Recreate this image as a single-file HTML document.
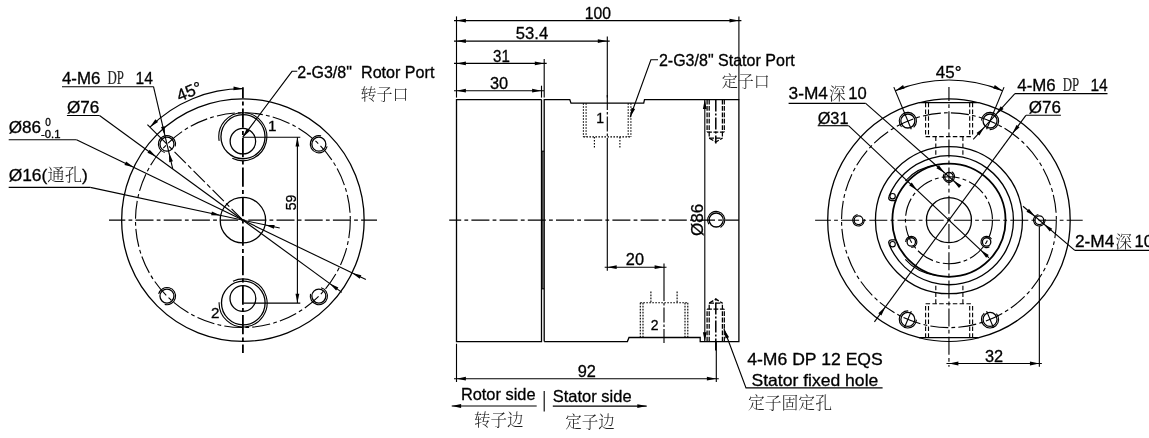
<!DOCTYPE html>
<html lang="zh">
<head>
<meta charset="utf-8">
<title>Rotary union drawing</title>
<style>
html,body{margin:0;padding:0;background:#fff;}
body{width:1149px;height:438px;overflow:hidden;}
svg{display:block;filter:grayscale(1);}
svg *{fill:none;stroke:#000;stroke-width:1.12;}
.o{stroke-width:1.3;}
.k{stroke-width:1.8;}
.c{stroke-dasharray:18 3.2 3.8 3.2;}
.d2{stroke-width:1.25;stroke-dasharray:4.8 1.6;}
.cs{stroke-width:1.5;stroke-dasharray:12 2 2 2;}
.c4{stroke-dasharray:18 3.2 3.8 3.2;}
.c3{stroke-dasharray:15 2 2.5 2;}
.c2{stroke-dasharray:16 3.2 4.5 3.2;}
.cb{stroke-width:1.8;stroke-dasharray:19.2 3.2 3.9 3.2;}
.h{stroke-dasharray:1.6 1.4;}
.d{stroke-dasharray:4.5 2.3;}
svg .a{fill:#000;stroke:none;}
svg text,svg tspan{fill:#000;stroke:#000;stroke-width:0.3;font-family:"Liberation Sans",sans-serif;}
svg .cj{font-family:"Liberation Serif","Noto Serif CJK SC",serif;font-weight:300;fill:#222;stroke:none;}
svg .sf{font-family:"Liberation Serif",serif;fill:#222;stroke:#222;stroke-width:0.2;}
</style>
</head>
<body>
<svg width="1149" height="438" viewBox="0 0 1149 438">
<!-- left view -->
<circle class="o" cx="242.9" cy="220.15" r="121.25"/>
<circle class="c" cx="242.9" cy="220.15" r="107.4"/>
<circle class="o" cx="242.9" cy="220.15" r="22.7"/>
<line class="c" x1="109" y1="220.15" x2="377" y2="220.15" stroke-dashoffset="1.7"/>
<line class="cb" x1="242.9" y1="87.2" x2="242.9" y2="353" stroke-dashoffset="8.1"/>
<circle class="o" cx="243" cy="136.7" r="22.05"/>
<circle class="o" cx="242.9" cy="141.2" r="12.75"/>
<path class="t" d="M232.28 158.27A24 24 0 1 0 219.16 140.87"/>
<circle class="o" cx="243.3" cy="303" r="21.8"/>
<circle class="o" cx="242.9" cy="298.5" r="12.9"/>
<path class="t" d="M219.11 302.16A24 24 0 1 0 232.96 281.25"/>
<circle class="o" cx="166.96" cy="144.21" r="7"/>
<path class="t" d="M175.26 146.43A8.6 8.6 0 1 0 164.73 152.51"/>
<circle class="o" cx="318.84" cy="144.21" r="7"/>
<path class="t" d="M321.07 135.9A8.6 8.6 0 1 0 327.15 146.43"/>
<circle class="o" cx="166.96" cy="296.09" r="7"/>
<path class="t" d="M164.73 304.4A8.6 8.6 0 1 0 158.65 293.87"/>
<circle class="o" cx="318.84" cy="296.09" r="7"/>
<path class="t" d="M310.54 293.87A8.6 8.6 0 1 0 321.07 287.79"/>
<line class="c2" x1="242.9" y1="220.15" x2="166.96" y2="144.21"/>
<line class="t" x1="166.96" y1="144.21" x2="147.4" y2="124.65"/>
<path class="t" d="M242.9 88.65A131.5 131.5 0 0 0 149.92 127.17"/>
<polygon class="a" points="242.9,88.65 233.45,90.27 233.56,86.47"/>
<polygon class="a" points="149.92,127.17 155.38,119.29 158.01,122.03"/>
<text class="s" x="191.5" y="96.8" font-size="17" text-anchor="middle" transform="rotate(-22.5 191.5 96.8)">45°</text>
<line class="t" x1="62" y1="86.7" x2="153.5" y2="86.7"/>
<line class="t" x1="153.5" y1="86.7" x2="172.74" y2="168.94"/>
<polygon class="a" points="165,135.83 161.01,127.11 164.71,126.25"/>
<polygon class="a" points="168.92,152.58 172.91,161.3 169.21,162.17"/>
<text class="s" x="62" y="84.3" font-size="17" textLength="38.4" lengthAdjust="spacingAndGlyphs">4-M6</text>
<text class="sf" x="107.5" y="84.3" font-size="18.6" textLength="16.4" lengthAdjust="spacingAndGlyphs">DP</text>
<text class="s" x="135.6" y="84.3" font-size="17" textLength="17.3" lengthAdjust="spacingAndGlyphs">14</text>
<line class="t" x1="66.9" y1="115.5" x2="99.5" y2="115.5"/>
<line class="t" x1="99.5" y1="115.5" x2="341.85" y2="292.36"/>
<polygon class="a" points="156.15,156.84 147.43,152.83 149.67,149.76"/>
<polygon class="a" points="329.65,283.46 338.37,287.47 336.13,290.54"/>
<text class="s" x="66.9" y="113.1" font-size="17" textLength="32.4" lengthAdjust="spacingAndGlyphs">Ø76</text>
<line class="t" x1="8.7" y1="139.7" x2="76.5" y2="139.7"/>
<line class="t" x1="76.5" y1="139.7" x2="365.88" y2="279.61"/>
<polygon class="a" points="133.74,167.37 124.45,164.99 126.1,161.57"/>
<polygon class="a" points="352.06,272.93 361.35,275.31 359.7,278.73"/>
<text class="s" x="8.7" y="133.2" font-size="17" textLength="32.4" lengthAdjust="spacingAndGlyphs">Ø86</text>
<text class="s" x="45.2" y="126.4" font-size="10">0</text>
<text class="s" x="41.1" y="137.8" font-size="10" textLength="19.4" lengthAdjust="spacingAndGlyphs">-0.1</text>
<line class="t" x1="8.7" y1="187.4" x2="90.3" y2="187.4"/>
<line class="t" x1="90.3" y1="187.4" x2="279.76" y2="228.06"/>
<polygon class="a" points="220.71,215.39 211.12,215.27 211.91,211.56"/>
<polygon class="a" points="265.09,224.91 274.68,225.03 273.89,228.74"/>
<text class="s" x="8.7" y="181" font-size="17" textLength="79.2" lengthAdjust="spacingAndGlyphs">Ø16(<tspan class="cj" font-size="17">通孔</tspan>)</text>
<polyline class="t" points="297.3,71.3 292,71.3 242.6,137.4"/>
<polygon class="a" points="242.6,137.4 246.71,128.73 249.75,131.01"/>
<text class="s" x="297.3" y="77.5" font-size="16">2-G3/8"</text>
<text class="s" x="361" y="77.5" font-size="16" textLength="73.4" lengthAdjust="spacingAndGlyphs">Rotor Port</text>
<text class="cj" x="360.4" y="99.9" font-size="16">转子口</text>
<line class="t" x1="243" y1="137.2" x2="300.3" y2="137.2"/>
<line class="t" x1="243.3" y1="303.1" x2="300.3" y2="303.1"/>
<line class="t" x1="297.4" y1="137.2" x2="297.4" y2="303.1"/>
<polygon class="a" points="297.4,137.2 299.3,146.6 295.5,146.6"/>
<polygon class="a" points="297.4,303.1 295.5,293.7 299.3,293.7"/>
<text class="s" x="295.8" y="202.4" font-size="14" text-anchor="middle" transform="rotate(-90 295.8 202.4)">59</text>
<text class="s" x="267.9" y="131.2" font-size="15.2">1</text>
<text class="s" x="211" y="318.4" font-size="15.2">2</text>
<!-- middle view -->
<polyline class="o" points="541.5,99.6 456.5,99.6 456.5,341.6 541.5,341.6 541.5,99.6"/>
<polyline class="o" points="544.2,341.6 544.2,99.6 569.8,99.6 571,103.2 643.7,103.2 644.5,99.6 738.9,99.6 738.9,341.6 700.2,341.6 700.2,337.5 629,337.5 627.4,341.6 544.2,341.6"/>
<line x1="542.85" y1="151.2" x2="542.85" y2="288.8" stroke="#aaa" stroke-width="1"/>
<line class="t" x1="541.5" y1="151.2" x2="544.2" y2="151.2"/>
<line class="t" x1="541.5" y1="288.8" x2="544.2" y2="288.8"/>
<line class="c4" x1="449.2" y1="220.1" x2="738.9" y2="220.1" stroke-dashoffset="6"/>
<line class="t" x1="456.5" y1="16.4" x2="456.5" y2="97.6"/>
<line class="t" x1="738.9" y1="16.4" x2="738.9" y2="99.6"/>
<line class="t" x1="454" y1="20.6" x2="741.4" y2="20.6"/>
<polygon class="a" points="456.5,20.6 465.9,18.7 465.9,22.5"/>
<polygon class="a" points="738.9,20.6 729.5,22.5 729.5,18.7"/>
<text class="s" x="597.9" y="19.4" font-size="17" text-anchor="middle" textLength="26.2" lengthAdjust="spacingAndGlyphs">100</text>
<line class="t" x1="454" y1="41.1" x2="609.7" y2="41.1"/>
<polygon class="a" points="456.5,41.1 465.9,39.2 465.9,43"/>
<polygon class="a" points="607.2,41.1 597.8,43 597.8,39.2"/>
<text class="s" x="532" y="38.9" font-size="17" text-anchor="middle" textLength="32.4" lengthAdjust="spacingAndGlyphs">53.4</text>
<line class="t" x1="454" y1="63.4" x2="546.7" y2="63.4"/>
<polygon class="a" points="456.5,63.4 465.9,61.5 465.9,65.3"/>
<polygon class="a" points="544.2,63.4 534.8,65.3 534.8,61.5"/>
<text class="s" x="501.4" y="61.7" font-size="17" text-anchor="middle" textLength="16.8" lengthAdjust="spacingAndGlyphs">31</text>
<line class="t" x1="454" y1="90.7" x2="544" y2="90.7"/>
<polygon class="a" points="456.5,90.7 465.9,88.8 465.9,92.6"/>
<polygon class="a" points="541.5,90.7 532.1,92.6 532.1,88.8"/>
<text class="s" x="499.1" y="88.7" font-size="17" text-anchor="middle" textLength="18.2" lengthAdjust="spacingAndGlyphs">30</text>
<line class="t" x1="544.2" y1="59" x2="544.2" y2="97.6"/>
<line class="t" x1="541.5" y1="85.7" x2="541.5" y2="97.6"/>
<line class="t" x1="607.3" y1="36.5" x2="607.3" y2="97.6"/>
<line class="c3" x1="607.3" y1="95" x2="607.3" y2="153"/>
<line class="t" x1="607.3" y1="153" x2="607.3" y2="270.8"/>
<line class="h" x1="583.4" y1="103.2" x2="583.4" y2="136.9"/>
<line class="h" x1="586.1" y1="103.2" x2="586.1" y2="136.9"/>
<line class="h" x1="628.2" y1="103.2" x2="628.2" y2="136.9"/>
<line class="h" x1="630.9" y1="103.2" x2="630.9" y2="136.9"/>
<line class="h" x1="583.4" y1="136.9" x2="630.9" y2="136.9"/>
<line class="h" x1="594.4" y1="136.9" x2="594.4" y2="148.9"/>
<line class="h" x1="619.9" y1="136.9" x2="619.9" y2="148.9"/>
<text class="s" x="596.3" y="123.4" font-size="14">1</text>
<polyline class="t" points="658,59.8 650.9,59.8 630.1,117.2"/>
<polygon class="a" points="630.1,117.2 631.52,107.72 635.09,109.01"/>
<text class="s" x="658.9" y="65.6" font-size="16" textLength="135.8" lengthAdjust="spacingAndGlyphs">2-G3/8" Stator Port</text>
<text class="cj" x="721.8" y="87.2" font-size="16">定子口</text>
<line class="t" x1="604.7" y1="267.2" x2="666.5" y2="267.2"/>
<polygon class="a" points="607.3,267.2 616.7,265.3 616.7,269.1"/>
<polygon class="a" points="664,267.2 654.6,269.1 654.6,265.3"/>
<text class="s" x="634.9" y="265.4" font-size="17" text-anchor="middle" textLength="18.2" lengthAdjust="spacingAndGlyphs">20</text>
<line class="t" x1="664" y1="263.4" x2="664" y2="286"/>
<line class="c3" x1="664" y1="286" x2="664" y2="343"/>
<line class="h" x1="640.3" y1="302.8" x2="640.3" y2="337.5"/>
<line class="h" x1="643" y1="302.8" x2="643" y2="337.5"/>
<line class="h" x1="685" y1="302.8" x2="685" y2="337.5"/>
<line class="h" x1="687.8" y1="302.8" x2="687.8" y2="337.5"/>
<line class="h" x1="640.3" y1="302.8" x2="687.8" y2="302.8"/>
<line class="h" x1="650.9" y1="291.6" x2="650.9" y2="302.8"/>
<line class="h" x1="677.1" y1="291.6" x2="677.1" y2="302.8"/>
<text class="s" x="650.8" y="329.6" font-size="14">2</text>
<line class="t" x1="704.8" y1="99.6" x2="704.8" y2="341.6"/>
<polygon class="a" points="704.8,99.6 706.7,109 702.9,109"/>
<polygon class="a" points="704.8,341.6 702.9,332.2 706.7,332.2"/>
<text class="s" x="703" y="219.8" font-size="17" text-anchor="middle" textLength="32.2" lengthAdjust="spacingAndGlyphs" transform="rotate(-90 703 219.8)">Ø86</text>
<circle class="o" cx="716.2" cy="220" r="7"/>
<path class="t" d="M720.5 227.45A8.6 8.6 0 1 0 708.75 224.3"/>
<line class="d2" x1="707.1" y1="99.6" x2="707.1" y2="132.1"/>
<line class="d2" x1="724.3" y1="99.6" x2="724.3" y2="132.1"/>
<line class="d2" x1="709.2" y1="99.6" x2="709.2" y2="138.1"/>
<line class="d2" x1="722.4" y1="99.6" x2="722.4" y2="138.1"/>
<line class="d2" x1="707.1" y1="132.1" x2="724.3" y2="132.1"/>
<polyline class="d2" points="709.2,138.1 715.8,142.1 722.4,138.1"/>
<line class="d2" x1="709.2" y1="138.1" x2="722.4" y2="138.1"/>
<line class="cs" x1="715.8" y1="99.6" x2="715.8" y2="143.6"/>
<line class="d2" x1="707.1" y1="341.6" x2="707.1" y2="309.1"/>
<line class="d2" x1="724.3" y1="341.6" x2="724.3" y2="309.1"/>
<line class="d2" x1="709.2" y1="341.6" x2="709.2" y2="303.1"/>
<line class="d2" x1="722.4" y1="341.6" x2="722.4" y2="303.1"/>
<line class="d2" x1="707.1" y1="309.1" x2="724.3" y2="309.1"/>
<polyline class="d2" points="709.2,303.1 715.8,299.1 722.4,303.1"/>
<line class="d2" x1="709.2" y1="303.1" x2="722.4" y2="303.1"/>
<line class="cs" x1="715.8" y1="350.6" x2="715.8" y2="297.6"/>
<line class="t" x1="456.5" y1="343.7" x2="456.5" y2="382"/>
<line class="t" x1="716.3" y1="341.5" x2="716.3" y2="382"/>
<line class="t" x1="454" y1="378.7" x2="718.8" y2="378.7"/>
<polygon class="a" points="456.5,378.7 465.9,376.8 465.9,380.6"/>
<polygon class="a" points="716.3,378.7 706.9,380.6 706.9,376.8"/>
<text class="s" x="586.8" y="376.6" font-size="17" text-anchor="middle" textLength="18.2" lengthAdjust="spacingAndGlyphs">92</text>
<polyline class="t" points="724,329 746,387.9 882.6,387.9"/>
<polygon class="a" points="724,329 729.07,337.14 725.51,338.47"/>
<text class="s" x="747.2" y="364.6" font-size="16.5" textLength="135.6" lengthAdjust="spacingAndGlyphs">4-M6 DP 12 EQS</text>
<text class="s" x="751.5" y="385.6" font-size="16.5" textLength="126.8" lengthAdjust="spacingAndGlyphs">Stator fixed hole</text>
<text class="cj" x="748" y="409.3" font-size="16.8">定子固定孔</text>
<line class="t" x1="451.7" y1="406" x2="536.7" y2="406"/>
<polygon class="a" points="451.7,406 461.1,404.1 461.1,407.9"/>
<text class="s" x="460.9" y="400" font-size="16.5" textLength="74.6" lengthAdjust="spacingAndGlyphs">Rotor side</text>
<text class="cj" x="474" y="426.3" font-size="16.5">转子边</text>
<line class="t" x1="544.2" y1="391" x2="544.2" y2="411.4"/>
<line class="t" x1="552.8" y1="406.1" x2="646.7" y2="406.1"/>
<polygon class="a" points="646.7,406.1 637.3,408 637.3,404.2"/>
<text class="s" x="552.8" y="402.2" font-size="16.5" textLength="78.8" lengthAdjust="spacingAndGlyphs">Stator side</text>
<text class="cj" x="565.3" y="428.3" font-size="16.5">定子边</text>
<!-- right view -->
<path class="o" d="M978.87 337.7A121.25 121.25 0 0 0 978.87 102.7"/>
<path class="o" d="M919.03 102.7A121.25 121.25 0 0 0 919.03 337.7"/>
<path class="t" d="M978.87 102.7A121.25 121.25 0 0 0 919.03 102.7"/>
<path class="t" d="M919.03 337.7A121.25 121.25 0 0 0 978.87 337.7"/>
<line class="o" x1="919.03" y1="102.7" x2="978.87" y2="102.7"/>
<line class="o" x1="919.03" y1="337.7" x2="978.87" y2="337.7"/>
<circle class="c" cx="948.95" cy="220.2" r="107.4"/>
<circle class="o" cx="948.95" cy="220.2" r="73.5"/>
<path class="o" d="M889.06 244.15A64.5 64.5 0 1 0 889.06 196.25"/>
<circle class="k" cx="948.95" cy="220.2" r="56.6"/>
<circle class="c" cx="948.95" cy="220.2" r="43.5"/>
<circle class="o" cx="948.95" cy="220.2" r="22.5"/>
<line class="c" x1="815.1" y1="220.2" x2="1082.7" y2="220.2" stroke-dashoffset="2.2"/>
<line class="c" x1="948.95" y1="87" x2="948.95" y2="366.7" stroke-dashoffset="4"/>
<path class="o" d="M889.2 196.3C888 198.6 889 200.3 891.6 200.5L896.2 200.5"/>
<circle class="t" cx="892.6" cy="196.2" r="2.7"/>
<path class="t" d="M905.3 181Q917 167.6 936.5 164.9"/>
<path class="o" d="M889.2 244.1C888 241.8 889 240.1 891.6 239.9L896.2 239.9"/>
<circle class="t" cx="892.6" cy="244.2" r="2.7"/>
<path class="t" d="M905.3 259.4Q917 272.8 936.5 275.5"/>
<circle class="o" cx="948.95" cy="176.7" r="4.2"/>
<path class="t" d="M944.1 173.9A5.6 5.6 0 1 0 951.75 171.85"/>
<circle class="o" cx="911.28" cy="241.95" r="4.2"/>
<path class="t" d="M911.28 247.55A5.6 5.6 0 1 0 905.68 241.95"/>
<circle class="o" cx="986.62" cy="241.95" r="4.2"/>
<path class="t" d="M991.47 239.15A5.6 5.6 0 1 0 989.42 246.8"/>
<circle class="o" cx="858.55" cy="220.2" r="4.4"/>
<path class="t" d="M857.54 214.49A5.8 5.8 0 1 0 864.26 219.19"/>
<circle class="o" cx="1039.35" cy="220.2" r="4.4"/>
<path class="t" d="M1038.34 214.49A5.8 5.8 0 1 0 1045.06 219.19"/>
<circle class="o" cx="990.05" cy="120.98" r="7"/>
<path class="t" d="M989.68 129.57A8.6 8.6 0 1 0 981.46 120.6"/>
<circle class="o" cx="907.85" cy="120.98" r="7"/>
<path class="t" d="M913.66 127.32A8.6 8.6 0 1 0 901.51 126.79"/>
<circle class="o" cx="907.85" cy="319.42" r="7"/>
<path class="t" d="M908.22 310.83A8.6 8.6 0 1 0 916.44 319.8"/>
<circle class="o" cx="990.05" cy="319.42" r="7"/>
<path class="t" d="M984.24 313.08A8.6 8.6 0 1 0 996.39 313.61"/>
<line class="t" x1="911.29" y1="311.11" x2="904.41" y2="327.74"/>
<line class="t" x1="986.61" y1="311.11" x2="993.49" y2="327.74"/>
<line class="d" x1="925.6" y1="102.7" x2="925.6" y2="136.6"/>
<line class="d" x1="928.5" y1="102.7" x2="928.5" y2="136.6"/>
<line class="d" x1="969.7" y1="102.7" x2="969.7" y2="136.6"/>
<line class="d" x1="972.6" y1="102.7" x2="972.6" y2="136.6"/>
<line class="d" x1="925.6" y1="136.6" x2="972.6" y2="136.6"/>
<line class="d" x1="935.8" y1="136.6" x2="935.8" y2="156.7"/>
<line class="d" x1="962.9" y1="136.6" x2="962.9" y2="156.7"/>
<line class="d" x1="925.6" y1="337.7" x2="925.6" y2="303.8"/>
<line class="d" x1="928.5" y1="337.7" x2="928.5" y2="303.8"/>
<line class="d" x1="969.7" y1="337.7" x2="969.7" y2="303.8"/>
<line class="d" x1="972.6" y1="337.7" x2="972.6" y2="303.8"/>
<line class="d" x1="925.6" y1="303.8" x2="972.6" y2="303.8"/>
<line class="d" x1="935.8" y1="303.8" x2="935.8" y2="283.7"/>
<line class="d" x1="962.9" y1="303.8" x2="962.9" y2="283.7"/>
<path class="t" d="M1002.6 90.67A140.2 140.2 0 0 0 895.3 90.67"/>
<line class="t" x1="986.61" y1="129.29" x2="1004.06" y2="87.16"/>
<polygon class="a" points="1002.6,90.67 993.26,88.49 994.84,85.03"/>
<line class="t" x1="911.29" y1="129.29" x2="893.84" y2="87.16"/>
<polygon class="a" points="895.3,90.67 903.06,85.03 904.64,88.49"/>
<text class="s" x="948.6" y="77.8" font-size="17" text-anchor="middle">45°</text>
<line class="t" x1="1014.9" y1="93.6" x2="1107.5" y2="93.6"/>
<line class="t" x1="1014.9" y1="93.6" x2="973.25" y2="139.49"/>
<polygon class="a" points="995.83,114.61 1000.74,106.37 1003.56,108.92"/>
<polygon class="a" points="984.27,127.34 979.36,135.58 976.55,133.03"/>
<text class="s" x="1017.3" y="90.8" font-size="17" textLength="38.4" lengthAdjust="spacingAndGlyphs">4-M6</text>
<text class="sf" x="1062.8" y="90.8" font-size="18.6" textLength="16.4" lengthAdjust="spacingAndGlyphs">DP</text>
<text class="s" x="1090.4" y="90.8" font-size="17" textLength="17.3" lengthAdjust="spacingAndGlyphs">14</text>
<line class="t" x1="1025.9" y1="115.3" x2="1060.9" y2="115.3"/>
<line class="t" x1="1025.9" y1="115.3" x2="874.42" y2="321.8"/>
<polygon class="a" points="1012.47,133.6 1016.5,124.9 1019.57,127.15"/>
<polygon class="a" points="885.43,306.8 881.4,315.5 878.33,313.25"/>
<text class="s" x="1028.8" y="113.2" font-size="17" textLength="32.1" lengthAdjust="spacingAndGlyphs">Ø76</text>
<line class="t" x1="788.6" y1="103.4" x2="865.7" y2="103.4"/>
<line class="t" x1="865.7" y1="103.4" x2="959.83" y2="186.28"/>
<polygon class="a" points="944.75,173 936.44,168.21 938.95,165.36"/>
<polygon class="a" points="953.15,180.4 961.46,185.19 958.95,188.04"/>
<text class="s" x="788.6" y="98.9" font-size="17" textLength="39.4" lengthAdjust="spacingAndGlyphs">3-M4</text>
<text class="cj" x="829" y="99.8" font-size="16.6">深</text>
<text class="s" x="848.3" y="98.9" font-size="16.6">10</text>
<line class="t" x1="817.7" y1="125.7" x2="848.5" y2="125.7"/>
<line class="t" x1="848.5" y1="125.7" x2="989.01" y2="257.89"/>
<polygon class="a" points="917.27,190.39 909.12,185.34 911.72,182.57"/>
<polygon class="a" points="980.63,250.01 988.78,255.06 986.18,257.83"/>
<text class="s" x="817.7" y="123.9" font-size="17" textLength="30.8" lengthAdjust="spacingAndGlyphs">Ø31</text>
<line class="t" x1="1074.8" y1="250.4" x2="1149" y2="250.4"/>
<line class="t" x1="1074.8" y1="250.4" x2="1022.98" y2="206.26"/>
<polygon class="a" points="1043.84,224.03 1052.23,228.68 1049.76,231.57"/>
<polygon class="a" points="1034.86,216.37 1026.47,211.72 1028.94,208.83"/>
<text class="s" x="1074.9" y="246.9" font-size="17" textLength="39.4" lengthAdjust="spacingAndGlyphs">2-M4</text>
<text class="cj" x="1115.3" y="247.8" font-size="16.6">深</text>
<text class="s" x="1134.6" y="246.9" font-size="16.6">10</text>
<line class="t" x1="1039.35" y1="226.2" x2="1039.35" y2="366.7"/>
<line class="t" x1="946.45" y1="363.5" x2="1041.85" y2="363.5"/>
<polygon class="a" points="948.95,363.5 958.35,361.6 958.35,365.4"/>
<polygon class="a" points="1039.35,363.5 1029.95,365.4 1029.95,361.6"/>
<text class="s" x="994" y="361.8" font-size="17" text-anchor="middle" textLength="18.2" lengthAdjust="spacingAndGlyphs">32</text>
</svg>
</body>
</html>
